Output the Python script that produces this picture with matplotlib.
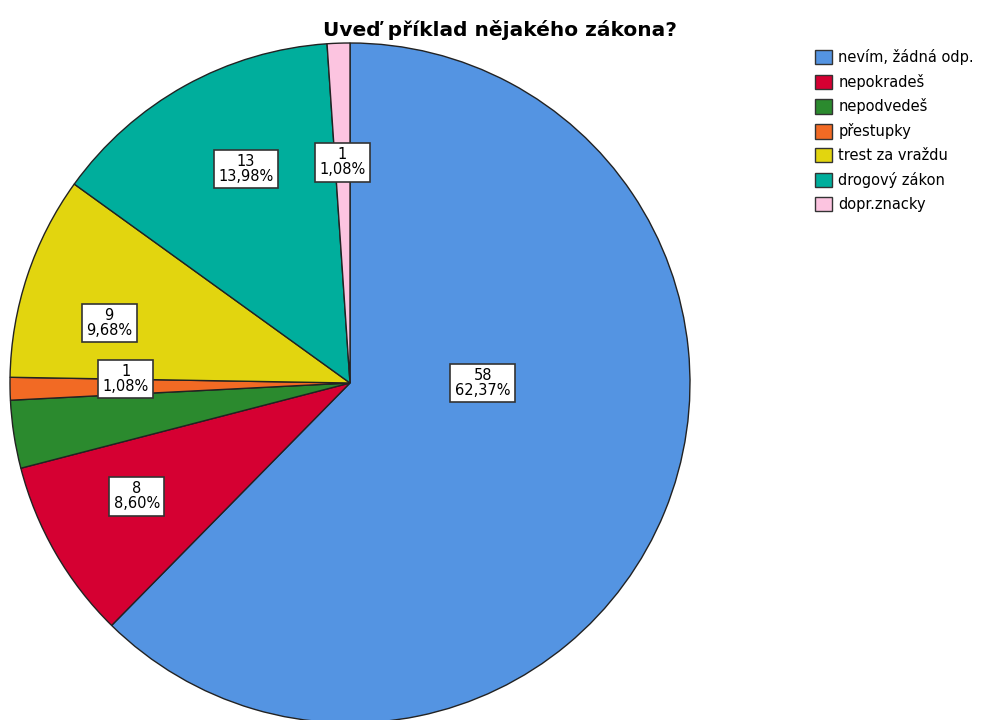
import matplotlib
matplotlib.use("Agg")
import matplotlib.pyplot as plt
import numpy as np
from matplotlib.patches import Patch

categories = ["nevím, žádná odp.", "nepokradeš", "nepodvedeš", "přestupky",
              "trest za vraždu", "drogový zákon", "dopr.znacky"]
counts = [58, 8, 3, 1, 9, 13, 1]
colors = ["#5494e2", "#d50032", "#2b8a2e", "#f26a24", "#e2d50f", "#00ae9c", "#fcc4e0"]
show_label = [True, True, False, True, True, True, True]
# label placement (fraction of radius, angle in degrees) - SPSS style positions
label_pos = [(0.39, 0), (0.71, 208), None, (0.66, 179), (0.73, 166), (0.70, 116), (0.65, 92)]

total = sum(counts)

fig = plt.figure(figsize=(9.95, 7.2), dpi=100)
R = 340
ax = fig.add_axes([(350 - R) / 995, (720 - 383 - R) / 720, 2 * R / 995, 2 * R / 720])
wedges, _ = ax.pie(counts, colors=colors, startangle=90, counterclock=False,
                   wedgeprops=dict(edgecolor="#222222", linewidth=1.0))
ax.set_xlim(-1, 1); ax.set_ylim(-1, 1)
ax.set_aspect("equal")

for c, show, pos in zip(counts, show_label, label_pos):
    if not show:
        continue
    r, a = pos
    x, y = r * np.cos(np.radians(a)), r * np.sin(np.radians(a))
    pct = f"{100 * c / total:.2f}".replace(".", ",")
    ax.text(x, y, f"{c}\n{pct}%", ha="center", va="center", fontsize=10.5, linespacing=1.0,
            bbox=dict(boxstyle="square,pad=0.3", facecolor="white", edgecolor="#333333", linewidth=1.2))

fig.text(500 / 995, 1 - 30 / 720, "Uveď příklad nějakého zákona?", ha="center", va="center",
         fontsize=14.5, fontweight="bold")

handles = [Patch(facecolor=col, edgecolor="#333333", label=lab) for col, lab in zip(colors, categories)]
fig.legend(handles=handles, loc="upper left", bbox_to_anchor=(815 / 995, 1 - 49 / 720),
           frameon=False, fontsize=10.5, handlelength=1.15, handleheight=1.15,
           handletextpad=0.45, labelspacing=0.6, borderaxespad=0, borderpad=0)

fig.savefig("out.png", dpi=100)
